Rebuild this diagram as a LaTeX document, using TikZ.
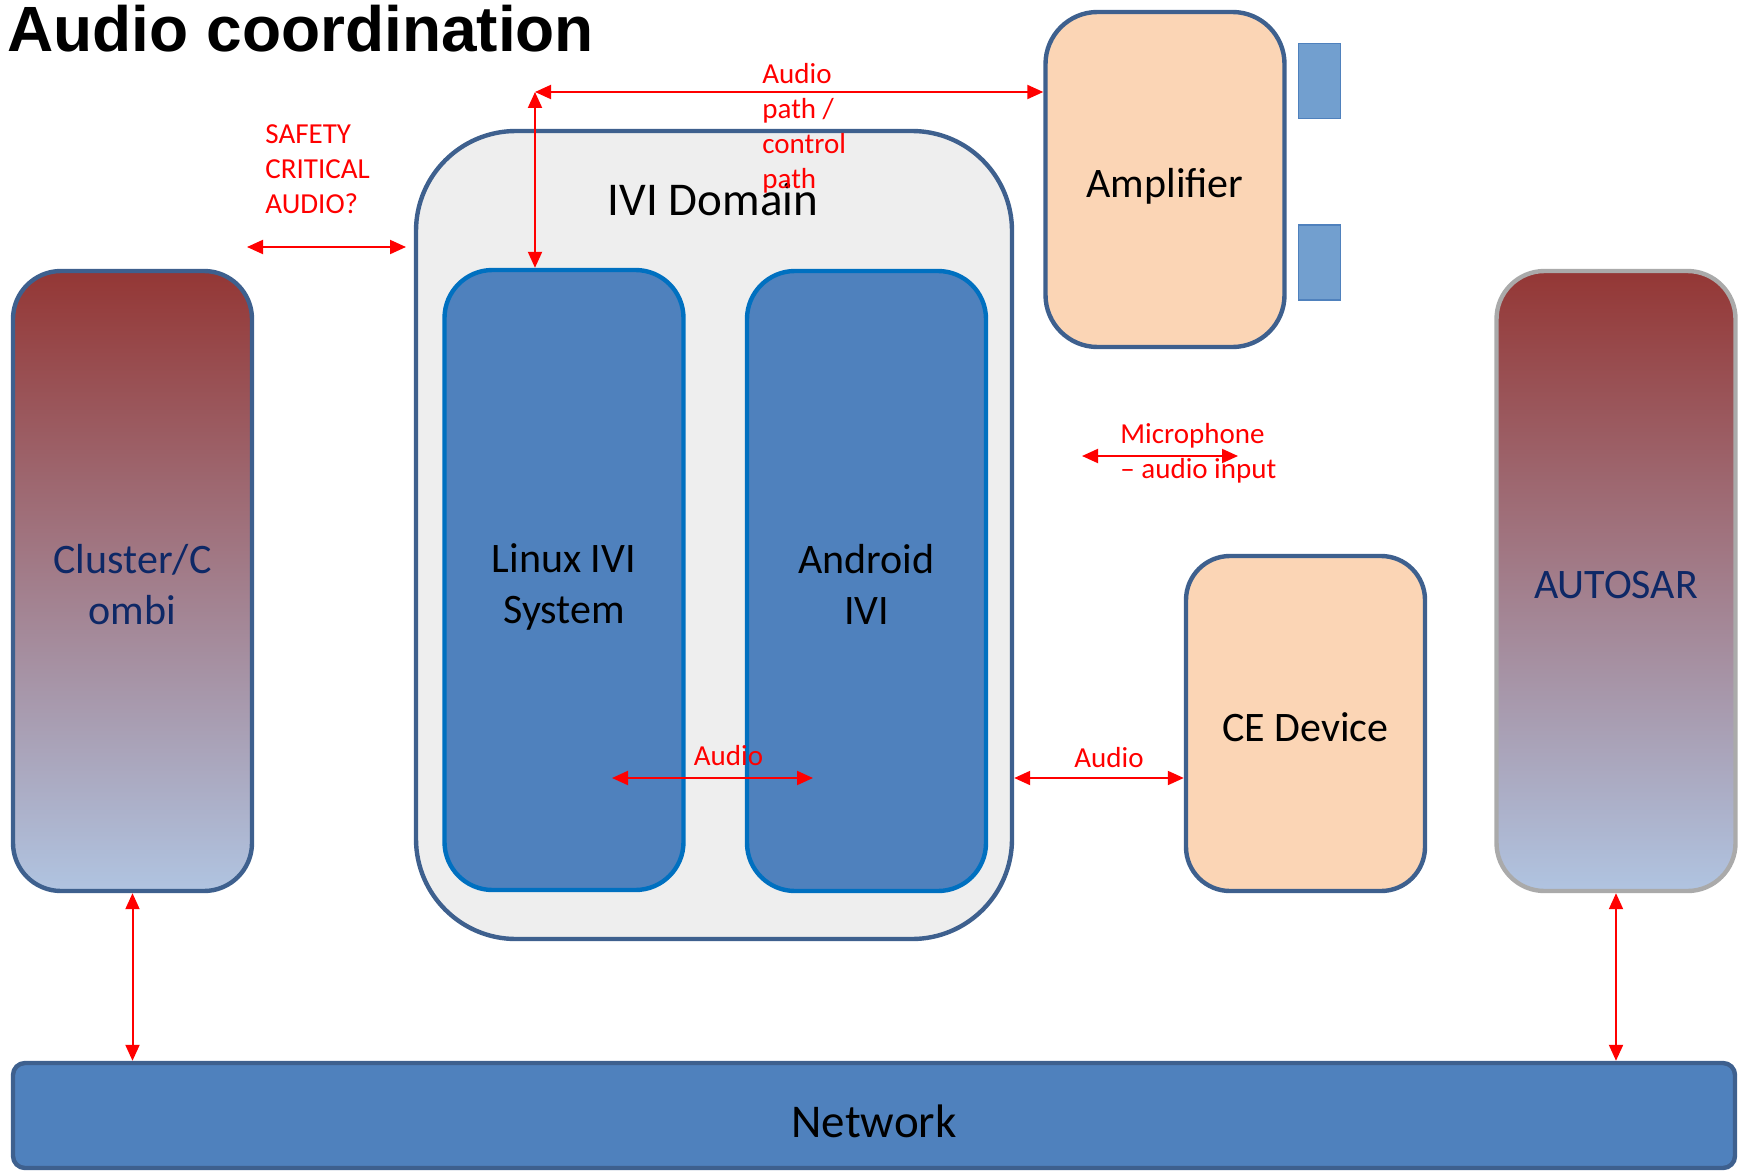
\documentclass[tikz,border=0pt]{standalone}
\usepackage{fontspec}
\setmainfont{Carlito}
\newfontfamily\titlefont{Liberation Sans}
\usetikzlibrary{arrows.meta}

\definecolor{boxline}{RGB}{62,96,142}
\definecolor{sysfill}{RGB}{79,129,189}
\definecolor{sysline}{RGB}{0,112,192}
\definecolor{domfill}{RGB}{238,238,238}
\definecolor{peach}{RGB}{251,213,181}
\definecolor{spkfill}{RGB}{114,159,207}
\definecolor{ecutop}{RGB}{148,55,53}
\definecolor{ecubot}{RGB}{176,196,225}
\definecolor{ecutext}{RGB}{14,40,102}
\definecolor{greyline}{RGB}{170,170,170}

\newcommand\bstrut{\rule[-5pt]{0pt}{27.5pt}}
\newcommand\topstrut{\rule{0pt}{22.5pt}}
\newcommand\botstrut{\rule[-5pt]{0pt}{5pt}}

\begin{document}
\begin{tikzpicture}[x=0.5pt,y=0.5pt,yscale=-1,xscale=1,
	box/.style={draw=boxline, line width=2.2pt, rounded corners=24pt, minimum width=119.5pt, align=center, inner sep=0pt, font=\fontsize{21}{25.5}\selectfont,
		execute at begin node={\bstrut}},
	ecu/.style={box, top color=ecutop, bottom color=ecubot, text=ecutext, minimum height=310pt},
	sys/.style={box, fill=sysfill, draw=sysline, minimum height=310pt},
	dev/.style={box, fill=peach, minimum height=167.5pt},
	spk/.style={draw=sysfill, fill=spkfill, line width=0.6pt, minimum width=21pt, minimum height=37.5pt, inner sep=0pt},
	redarrow/.style={draw=red, line width=1pt, {Triangle[length=8pt,width=7pt]}-{Triangle[length=8pt,width=7pt]}},
	redlabel/.style={text=red, align=left, inner sep=0pt, font=\fontsize{14.5}{17.5}\selectfont}]
	\useasboundingbox (0,0) rectangle (1744,1172);

	% Title
	\node [anchor=base west, inner sep=0pt, font=\fontsize{32}{38}\titlefont\bfseries] (title) at (7,52) {Audio coordination};

	% Domain
	\node [box, fill=domfill, rounded corners=50pt, minimum width=298pt, minimum height=404pt] (dom) at (714,535) {};
	\node [font=\fontsize{23.5}{28}\selectfont, inner sep=0pt] (domtitle) at (713,200) {IVI Domain};
	\node [sys] (linux) at (564,580) {\topstrut Linux IVI\\System\botstrut};
	\node [sys] (android) at (866.5,581) {\topstrut Android\\IVI\botstrut};

	% ECUs
	\node [ecu] (cluster) at (132.5,581) {\topstrut Cluster/C\\ombi\botstrut};
	\node [ecu, draw=greyline] (autosar) at (1616,581) {AUTOSAR};

	% Devices
	\node [dev, rounded corners=26pt] (amp) at (1165,179.5) {Amplifier};
	\node [spk] (spkA) at (1319.5,81) {};
	\node [spk] (spkB) at (1319.5,262.5) {};
	\node [dev, rounded corners=22pt] (ce) at (1305.5,723.5) {CE Device};

	% Network
	\node [box, fill=sysfill, rounded corners=6pt, minimum width=861pt, minimum height=52.5pt, font=\fontsize{23.5}{28}\selectfont,
		execute at begin node={\rule[-4pt]{0pt}{30.5pt}}] (net) at (874,1115.5) {Network};

	% Connection
	\coordinate (safeL) at (247,247);
	\coordinate (safeR) at (406,247);
	\draw [redarrow] (safeL) -- (safeR);
	% Connection
	\coordinate (pathC) at (535,92);
	\draw [redarrow] (pathC) -- (pathC -| amp.west);
	\draw [redarrow] (pathC) -- (pathC |- linux.north);
	% Connection
	\coordinate (micL) at (1082,456);
	\coordinate (micR) at (1238,456);
	\draw [redarrow] (micL) -- (micR);
	% Connection
	\coordinate (audL) at (612,778);
	\coordinate (audR) at (813,778);
	\draw [redarrow] (audL) -- (audR);
	% Connection
	\coordinate (extY) at (0,778);
	\draw [redarrow] (dom.east |- extY) -- (ce.west |- extY);
	% Connection
	\draw [redarrow] (cluster.south) -- (cluster.south |- net.north);
	\draw [redarrow] (autosar.south) -- (autosar.south |- net.north);

	% Text Node
	\node [redlabel, anchor=north west] (safetxt) at (265,124) {SAFETY\\CRITICAL\\AUDIO?};
	\node [redlabel, anchor=north west] (pathtxt) at (762,63) {Audio\\path /\\control\\path};
	\node [redlabel, anchor=north west] (mictxt) at (1120,423) {Microphone\\– audio input};
	\node [redlabel, anchor=base] (audtxt) at (728.5,765) {Audio};
	\node [redlabel, anchor=base] (exttxt) at (1109,767) {Audio};

\end{tikzpicture}
\end{document}
